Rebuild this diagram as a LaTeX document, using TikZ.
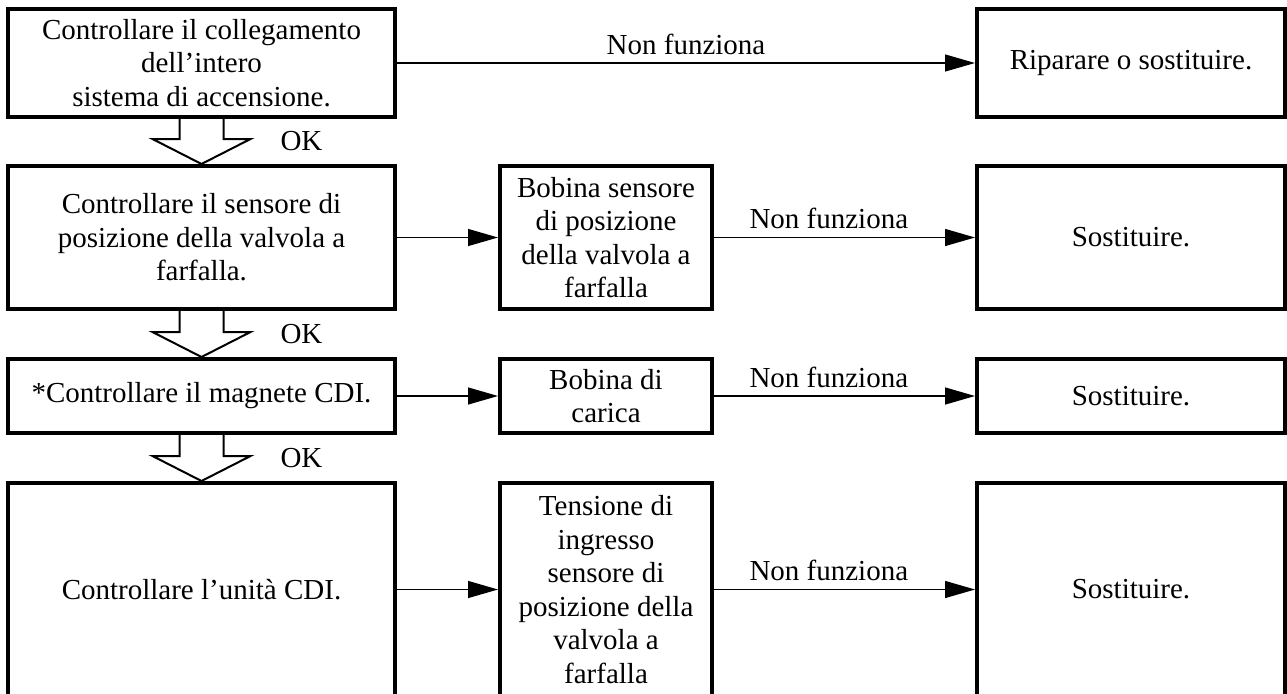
\documentclass[tikz,border=0pt]{standalone}
\usepackage{fontspec}
\setmainfont{Liberation Serif}
\usetikzlibrary{arrows.meta,calc}
\tikzset{
  stepbox/.style={draw,line width=4pt,inner sep=2pt,align=center,
    font=\fontsize{29}{33.5}\selectfont},
  leftcol/.style={stepbox,minimum width=387pt},
  midcol/.style={stepbox,minimum width=212pt},
  rightcol/.style={stepbox,minimum width=308pt},
  nogo/.style={line width=1.3pt,-{Triangle[length=30pt,width=17pt]}},
  nflabel/.style={font=\fontsize{29}{33}\selectfont,inner sep=8pt},
  okarrow/.style={line width=2pt,line join=miter},
  oklabel/.style={font=\fontsize{29}{33}\selectfont},
}
\newcommand\okdown[3]{%
  \draw[okarrow] let \p1=(#1.south), \p2=(#2.north) in
    (\x1-22pt,\y1) -- (\x1-22pt,\y2+25pt) -- (\x1-49pt,\y2+25pt) -- (\x1,\y2)
    -- (\x1+49pt,\y2+25pt) -- (\x1+22pt,\y2+25pt) -- (\x1+22pt,\y1);
  \node[oklabel] (#3) at ($(#1.south)!0.5!(#2.north)+(100pt,0)$) {OK};
}

\begin{document}
\begin{tikzpicture}[x=1pt,y=-1pt]
  \useasboundingbox (0,0) rectangle (1287,693);
  \def\colL{201.5}\def\colM{606}\def\colR{1131}

  \node[leftcol,minimum height=108pt] (wiring) at (\colL,63)
    {Controllare il collegamento\\dell’intero\\sistema di accensione.};
  \node[rightcol,minimum height=108pt] (repair) at (\colR,63)
    {Riparare o sostituire.};

  \node[leftcol,minimum height=143pt] (tps) at (\colL,237.5)
    {Controllare il sensore di\\posizione della valvola a\\farfalla.};
  \node[midcol,minimum height=143pt] (tpscoil) at (\colM,237.5)
    {Bobina sensore\\di posizione\\della valvola a\\farfalla};
  \node[rightcol,minimum height=143pt] (repltps) at (\colR,237.5) {Sostituire.};

  \node[leftcol,minimum height=74pt] (magneto) at (\colL,396)
    {*Controllare il magnete CDI.};
  \node[midcol,minimum height=74pt] (charge) at (\colM,396)
    {Bobina di\\carica};
  \node[rightcol,minimum height=74pt] (replcoil) at (\colR,396) {Sostituire.};

  \node[leftcol,minimum height=213pt] (cdi) at (\colL,589.5)
    {Controllare l’unità CDI.};
  \node[midcol,minimum height=213pt] (volt) at (\colM,589.5)
    {Tensione di\\ingresso\\sensore di\\posizione della\\valvola a\\farfalla};
  \node[rightcol,minimum height=213pt] (replcdi) at (\colR,589.5) {Sostituire.};

  \draw[nogo] (wiring) -- node[nflabel,above] (nf1) {Non funziona} (repair);
  \draw[nogo] (tps) -- (tpscoil);
  \draw[nogo] (tpscoil) -- node[nflabel,above,pos=0.44] (nf2) {Non funziona} (repltps);
  \draw[nogo] (magneto) -- (charge);
  \draw[nogo] (charge) -- node[nflabel,above,pos=0.44] (nf3) {Non funziona} (replcoil);
  \draw[nogo] (cdi) -- (volt);
  \draw[nogo] (volt) -- node[nflabel,above,pos=0.44] (nf4) {Non funziona} (replcdi);

  \okdown{wiring}{tps}{ok1}
  \okdown{tps}{magneto}{ok2}
  \okdown{magneto}{cdi}{ok3}
\end{tikzpicture}
\end{document}
